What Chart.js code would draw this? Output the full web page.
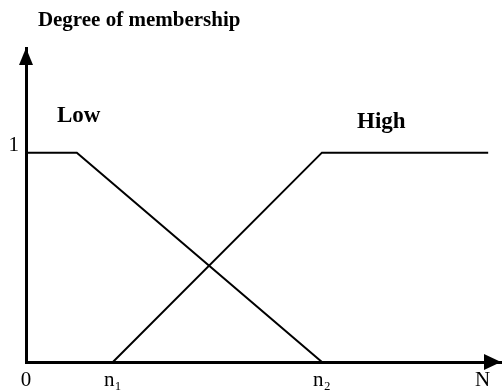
<!DOCTYPE html>
<html>
<head>
<meta charset="utf-8">
<script src="https://cdn.jsdelivr.net/npm/chart.js@4.4.1/dist/chart.umd.min.js"></script>
<style>
  html, body { margin: 0; padding: 0; background: #fff; }
  #wrap { width: 502px; height: 392px; position: relative; }
</style>
</head>
<body>
<div id="wrap"><canvas id="c"></canvas></div>
<script>
// ---- data ----
const n1 = 18.3;          // start of "High" ramp
const n2 = 62.3;          // end of both ramps
const lowPlateauEnd = 10.7;
const xEnd = 97.3;
const nMax = 96.1;

const lowX = [0, lowPlateauEnd, n2];
const lowY = [1, 1, 0];
const highX = [n1, n2, xEnd];
const highY = [0, 1, 1];

const xTickValues = [0, n1, n2, nMax];
const xTickLabels = ['0', 'n\u2081', 'n\u2082', 'N'];
const yTickValues = [1];
const yTickLabels = ['1'];

const seriesNames = ['Low', 'High'];
const chartTitle = 'Degree of membership';

// annotation anchors (data units)
const labelAnchors = [
  { text: seriesNames[0], x: 6.5, y: 1.147 },
  { text: seriesNames[1], x: 69.7, y: 1.118 }
];
const titleAnchor = { x: 2.5, y: 1.607 };

const toPts = (xs, ys) => xs.map((x, i) => ({ x, y: ys[i] }));

const annotations = {
  id: 'annotations',
  afterDraw(chart) {
    const ctx = chart.ctx;
    const xs = chart.scales.x, ys = chart.scales.y;
    const a = chart.chartArea;
    ctx.save();
    ctx.fillStyle = '#000';
    // arrowheads
    ctx.beginPath();
    ctx.moveTo(a.left, a.top);
    ctx.lineTo(a.left - 7, a.top + 17);
    ctx.lineTo(a.left + 7, a.top + 17);
    ctx.closePath();
    ctx.fill();
    ctx.beginPath();
    ctx.moveTo(a.right, a.bottom);
    ctx.lineTo(a.right - 17, a.bottom - 8);
    ctx.lineTo(a.right - 17, a.bottom + 8);
    ctx.closePath();
    ctx.fill();
    // labels
    ctx.textAlign = 'left';
    ctx.textBaseline = 'alphabetic';
    ctx.font = 'bold 23px "Liberation Serif"';
    labelAnchors.forEach(l => {
      ctx.fillText(l.text, xs.getPixelForValue(l.x), ys.getPixelForValue(l.y));
    });
    ctx.font = 'bold 21px "Liberation Serif"';
    ctx.fillText(chartTitle, xs.getPixelForValue(titleAnchor.x), ys.getPixelForValue(titleAnchor.y));
    ctx.restore();
  }
};

new Chart(document.getElementById('c'), {
  type: 'scatter',
  data: {
    datasets: [
      { label: seriesNames[0], data: toPts(lowX, lowY), showLine: true,
        borderColor: '#000', borderWidth: 2, pointRadius: 0, tension: 0 },
      { label: seriesNames[1], data: toPts(highX, highY), showLine: true,
        borderColor: '#000', borderWidth: 2, pointRadius: 0, tension: 0 }
    ]
  },
  options: {
    responsive: true,
    maintainAspectRatio: false,
    animation: false,
    layout: { padding: { top: 48, right: 1, left: 0, bottom: 0 } },
    plugins: { legend: { display: false }, tooltip: { enabled: false } },
    scales: {
      x: {
        type: 'linear', min: 0, max: 100,
        grid: { display: false, drawTicks: false },
        border: { display: true, color: '#000', width: 3 },
        afterBuildTicks: s => { s.ticks = xTickValues.map(v => ({ value: v })); },
        afterFit: s => { s.height = 30; },
        ticks: {
          autoSkip: false, maxRotation: 0, padding: 6, color: '#000',
          font: { family: '"Liberation Serif"', size: 21 },
          callback: (v) => { const i = xTickValues.indexOf(v); return i >= 0 ? xTickLabels[i] : ''; }
        }
      },
      y: {
        type: 'linear', min: 0, max: 1.5,
        grid: { display: false, drawTicks: false },
        border: { display: true, color: '#000', width: 3 },
        afterBuildTicks: s => { s.ticks = yTickValues.map(v => ({ value: v })); },
        afterFit: s => { s.width = 26; },
        ticks: {
          autoSkip: false, padding: 7, labelOffset: -7, color: '#000',
          font: { family: '"Liberation Serif"', size: 21 },
          callback: (v) => { const i = yTickValues.indexOf(v); return i >= 0 ? yTickLabels[i] : ''; }
        }
      }
    }
  },
  plugins: [annotations]
});
</script>
</body>
</html>
